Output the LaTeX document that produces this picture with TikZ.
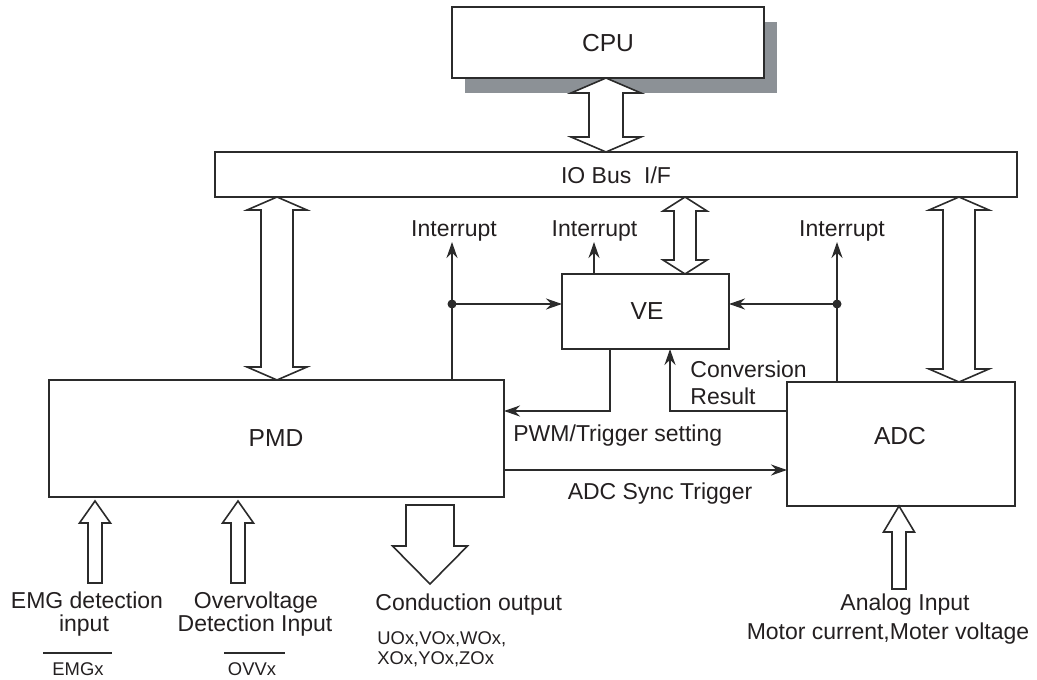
\documentclass[tikz,border=0pt]{standalone}
\usepackage{fontspec}
\setmainfont{Liberation Sans}
\usetikzlibrary{arrows.meta,calc}
\definecolor{ink}{HTML}{2B2B2B}
\definecolor{txt}{HTML}{231F20}
\definecolor{shadowgray}{HTML}{8C9196}
\newcommand\bigdbl[5]{%
\draw[bigarrow] let \p1=#1, \p2=#2 in
 (\x1,\y1) -- ([shift={(#3,#5)}]\x1,\y1) -- ([shift={(#4,#5)}]\x1,\y1)
 -- ([shift={(#4,-#5)}]\x1,\y2) -- ([shift={(#3,-#5)}]\x1,\y2) -- (\x1,\y2)
 -- ([shift={(-#3,-#5)}]\x1,\y2) -- ([shift={(-#4,-#5)}]\x1,\y2)
 -- ([shift={(-#4,#5)}]\x1,\y1) -- ([shift={(-#3,#5)}]\x1,\y1) -- cycle;}
\newcommand\bigup[5]{%
\draw[bigarrow] let \p1=#1, \p2=#2 in
 (\x1,\y1) -- ([shift={(#3,#5)}]\x1,\y1) -- ([shift={(#4,#5)}]\x1,\y1)
 -- ([shift={(#4,0)}]\x1,\y2) -- ([shift={(-#4,0)}]\x1,\y2)
 -- ([shift={(-#4,#5)}]\x1,\y1) -- ([shift={(-#3,#5)}]\x1,\y1) -- cycle;}
\newcommand\bigdown[5]{%
\draw[bigarrow] let \p1=#1, \p2=#2 in
 ([shift={(-#4,0)}]\x1,\y1) -- ([shift={(#4,0)}]\x1,\y1)
 -- ([shift={(#4,-#5)}]\x1,\y2) -- ([shift={(#3,-#5)}]\x1,\y2) -- (\x1,\y2)
 -- ([shift={(-#3,-#5)}]\x1,\y2) -- ([shift={(-#4,-#5)}]\x1,\y2) -- cycle;}
\begin{document}
\begin{tikzpicture}[x=0.5pt,y=-0.5pt,
  box/.style={draw=ink, line width=1pt, fill=white, inner sep=0pt, outer sep=0pt},
  boxlbl/.style={inner sep=0pt, anchor=base, text=txt, font=\fontsize{12.3}{14}\selectfont},
  lbl/.style={inner sep=0pt, anchor=base, text=txt, font=\fontsize{11.5}{13}\selectfont},
  small/.style={inner sep=0pt, anchor=base, text=txt, font=\fontsize{9.2}{11}\selectfont},
  conn/.style={draw=ink, line width=1pt},
  arr/.style={conn, -{Stealth[length=8pt,width=5.5pt]}},
  bigarrow/.style={draw=ink, line width=0.8pt, fill=white, line join=miter},
  dot/.style={circle, fill=ink, inner sep=0pt, minimum size=4.5pt}]
\useasboundingbox (0,0) rectangle (1037,679);
% boxes
\fill[shadowgray] (465,22) rectangle (777,93);
\node[box, minimum width=156pt, minimum height=35.5pt] (cpu) at (608,42.5) {};
\node[box, minimum width=401pt, minimum height=22.5pt] (io) at (616,174.5) {};
\node[box, minimum width=83.5pt, minimum height=37.5pt] (ve) at (645.5,311.5) {};
\node[box, minimum width=227.5pt, minimum height=58.5pt] (pmd) at (276.5,438.5) {};
\node[box, minimum width=114pt, minimum height=62pt] (adc) at (901,444) {};
\node[boxlbl] (cpulbl) at (608,52) {CPU};
\node[lbl] (iolbl) at (616,184) {IO Bus\ \ I/F};
\node[boxlbl] (velbl) at (647,319) {VE};
\node[boxlbl] (pmdlbl) at (276,446) {PMD};
\node[boxlbl] (adclbl) at (900,444) {ADC};
% big arrows
\bigdbl{(cpu.south -| 606,0)}{(io.north -| 606,0)}{35}{17}{15}
\bigdbl{(io.south -| 277,0)}{(pmd.north -| 277,0)}{30}{16}{13}
\bigdbl{(io.south -| 959,0)}{(adc.north -| 959,0)}{30}{16}{13}
\bigdbl{(io.south -| 685,0)}{(ve.north -| 685,0)}{22}{11}{14}
\bigup{($(pmd.south -| 95,0)+(0,4)$)}{(95,583)}{15.5}{7}{22}
\bigup{($(pmd.south -| 238,0)+(0,4)$)}{(238,583)}{15.5}{7}{22}
\bigup{(adc.south -| 899,0)}{(899,589)}{15.5}{7}{26}
\bigdown{($(pmd.south -| 430,0)+(0,8)$)}{(430,584)}{37.5}{24}{38}
% interrupts
\coordinate (i1) at (452,242);
\coordinate (i2) at (594,242);
\coordinate (i3) at (837,242);
\node[lbl] (int1) at (454,236) {Interrupt};
\node[lbl] (int2) at (594.5,236) {Interrupt};
\node[lbl] (int3) at (842,236) {Interrupt};
\coordinate (j1) at (452,304);
\coordinate (j2) at (837,304);
\draw[arr] (pmd.north -| i1) -- (i1);
\draw[arr] (ve.north -| i2) -- (i2);
\draw[arr] (adc.north -| i3) -- (i3);
\draw[arr] (j1) -- (ve.west |- j1);
\draw[arr] (j2) -- (ve.east |- j2);
\node[dot] (d1) at (j1) {};
\node[dot] (d2) at (j2) {};
% VE <-> PMD / ADC
\draw[arr] (ve.south -| 610,0) |- (pmd.east |- 0,411);
\draw[arr] (adc.west |- 0,411) -| (ve.south -| 670,0);
\draw[arr] (pmd.east |- 0,470) -- (adc.west |- 0,470);
\node[lbl, anchor=base west] (conv) at (690,377) {Conversion};
\node[lbl, anchor=base west] (res) at (690,404) {Result};
\node[lbl, anchor=base west] (pwm) at (513,441.5) {PWM/Trigger setting};
\node[lbl] (sync) at (660,499) {ADC Sync Trigger};
% bottom labels
\node[lbl] (emg1) at (87,608) {EMG detection};
\node[lbl] (emg2) at (84,631) {input};
\draw[conn, line width=0.9pt] (43,653) -- (112,653);
\node[small] (emgx) at (78,675) {EMGx};
\node[lbl] (ovv1) at (256,608) {Overvoltage};
\node[lbl] (ovv2) at (255,631) {Detection Input};
\draw[conn, line width=0.9pt] (224,653) -- (285,653);
\node[small] (ovvx) at (252,675) {OVVx};
\node[lbl, anchor=base west] (cond) at (375,610.5) {Conduction output};
\node[small, anchor=base west] (uox) at (377,644) {UOx,VOx,WOx,};
\node[small, anchor=base west] (xox) at (377,664) {XOx,YOx,ZOx};
\node[lbl] (ana1) at (905,610.5) {Analog Input};
\node[lbl] (ana2) at (888,639) {Motor current,Moter voltage};
\end{tikzpicture}
\end{document}
